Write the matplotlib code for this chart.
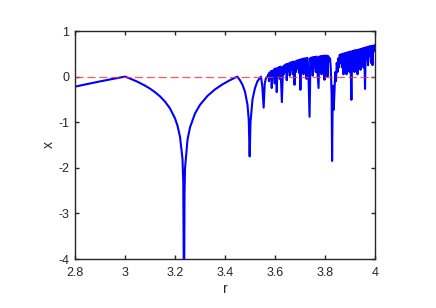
import numpy as np
import matplotlib
matplotlib.use("Agg")
import matplotlib.pyplot as plt

# values (r, x)
r_stable = [2.80, 2.90, 3.00, 3.02, 3.05, 3.08, 3.10, 3.12, 3.14, 3.16, 3.18,
            3.20, 3.21, 3.22, 3.23, 3.233, 3.2355, 3.2366, 3.238, 3.24, 3.25,
            3.26, 3.28, 3.30, 3.33, 3.36, 3.39, 3.42, 3.449, 3.46, 3.47, 3.48,
            3.49, 3.495, 3.4986, 3.502, 3.51, 3.52, 3.53, 3.544, 3.549, 3.5546,
            3.559, 3.564]
x_stable = [-0.22, -0.105, 0.0, -0.042, -0.113, -0.198, -0.264, -0.341, -0.433,
            -0.548, -0.698, -0.916, -1.077, -1.318, -1.804, -2.3, -4.6, -4.6,
            -2.6, -2.02, -1.386, -1.115, -0.809, -0.619, -0.423, -0.281, -0.170,
            -0.078, 0.0, -0.08, -0.18, -0.33, -0.62, -0.95, -1.75, -1.0, -0.5,
            -0.25, -0.1, 0.0, -0.2, -0.68, -0.15, -0.03]

r_chaos = [3.5699, 3.574, 3.576, 3.578, 3.582, 3.584, 3.587, 3.590, 3.593, 3.596,
           3.599, 3.602, 3.605, 3.607, 3.610, 3.613, 3.616, 3.619, 3.622, 3.6275,
           3.632, 3.635, 3.638, 3.641, 3.644, 3.647, 3.650, 3.653, 3.656, 3.659,
           3.662, 3.665, 3.668, 3.671, 3.674, 3.678, 3.681, 3.684, 3.687, 3.690,
           3.693, 3.696, 3.699, 3.7016, 3.705, 3.708, 3.711, 3.714, 3.717, 3.720,
           3.723, 3.726, 3.729, 3.733, 3.7382, 3.742, 3.745, 3.748, 3.751, 3.754,
           3.757, 3.760, 3.763, 3.766, 3.7742, 3.777, 3.780, 3.783, 3.786, 3.789,
           3.792, 3.795, 3.798, 3.801, 3.804, 3.807, 3.810, 3.813, 3.817, 3.820,
           3.823, 3.8265, 3.8284, 3.8305, 3.833, 3.835, 3.838, 3.841, 3.844, 3.847,
           3.850, 3.853, 3.856, 3.859, 3.862, 3.865, 3.868, 3.871, 3.874, 3.877,
           3.880, 3.883, 3.886, 3.889, 3.892, 3.895, 3.898, 3.901, 3.9057, 3.909,
           3.912, 3.915, 3.918, 3.921, 3.924, 3.927, 3.930, 3.933, 3.936, 3.939,
           3.942, 3.945, 3.948, 3.951, 3.954, 3.957, 3.9601, 3.963, 3.966, 3.969,
           3.972, 3.975, 3.978, 3.981, 3.984, 3.987, 3.990, 3.993, 3.996, 4.000]
x_chaos = [0.0, 0.05, -0.1, 0.09, -0.05, 0.12, -0.25, 0.13, -0.02, 0.16,
           -0.15, 0.18, 0.02, -0.34, 0.19, 0.05, 0.21, -0.05, 0.22, -0.56,
           0.22, 0.05, 0.25, 0.10, 0.27, -0.08, 0.28, 0.12, 0.29, 0.02,
           0.31, 0.15, 0.32, 0.05, 0.33, -0.18, 0.33, 0.10, 0.35, 0.18,
           0.36, 0.08, 0.37, -0.29, 0.38, 0.15, 0.39, 0.05, 0.40, 0.20,
           0.40, -0.05, 0.41, 0.22, -0.88, 0.41, 0.15, 0.42, 0.02, 0.43,
           0.20, 0.43, 0.10, 0.44, -0.25, 0.44, 0.15, 0.45, 0.05, 0.45,
           0.20, 0.46, -0.07, 0.46, 0.25, 0.46, 0.0, 0.45, 0.35, 0.40,
           0.20, -0.40, -1.85, -0.60, -0.20, -0.73, -0.30, 0.10, -0.10, 0.30,
           0.10, 0.40, 0.20, 0.48, 0.30, 0.49, 0.20, 0.50, 0.05, 0.51,
           0.25, 0.52, 0.05, 0.53, 0.30, 0.54, 0.10, 0.55, -0.51, 0.56,
           0.30, 0.57, 0.10, 0.58, 0.35, 0.58, 0.05, 0.59, 0.35, 0.60,
           0.15, 0.61, 0.40, 0.62, 0.20, 0.63, -0.27, 0.64, 0.40, 0.65,
           0.25, 0.66, 0.45, 0.67, 0.30, 0.67, 0.25, 0.68, 0.55, 0.69]

plt.rcParams["font.family"] = ["Liberation Sans", "DejaVu Sans"]
plt.rcParams["axes.unicode_minus"] = False

dark = "#262626"
fig = plt.figure(figsize=(4.36, 3.08), dpi=100)
ax = fig.add_axes([75 / 436, 1 - 259 / 308, 300 / 436, 228 / 308])

r_all = r_stable + r_chaos
x_all = x_stable + x_chaos
ax.plot(r_all, x_all, color=(0, 0, 1), linewidth=1.5, zorder=2)
ax.axhline(0, color="#ff3030", linewidth=0.9, linestyle=(0, (6.5, 3.0)),
           alpha=0.8, zorder=3)

ax.set_xlim(2.8, 4)
ax.set_ylim(-4, 1)
ax.set_xticks([2.8, 3, 3.2, 3.4, 3.6, 3.8, 4])
ax.set_xticklabels(["2.8", "3", "3.2", "3.4", "3.6", "3.8", "4"])
ax.set_yticks([-4, -3, -2, -1, 0, 1])
ax.set_yticklabels(["-4", "-3", "-2", "-1", "0", "1"])

for s in ax.spines.values():
    s.set_color(dark)
    s.set_linewidth(1.0)
ax.tick_params(direction="in", top=True, right=True, length=3, width=1.0,
               color=dark, labelcolor=dark, labelsize=9)
ax.tick_params(axis="x", pad=6)
ax.tick_params(axis="y", pad=4)

ax.set_xlabel("r", fontsize=10, color=dark, labelpad=2)
ax.set_ylabel("x", fontsize=10, color=dark, labelpad=2)

fig.savefig("out.png", dpi=100)
